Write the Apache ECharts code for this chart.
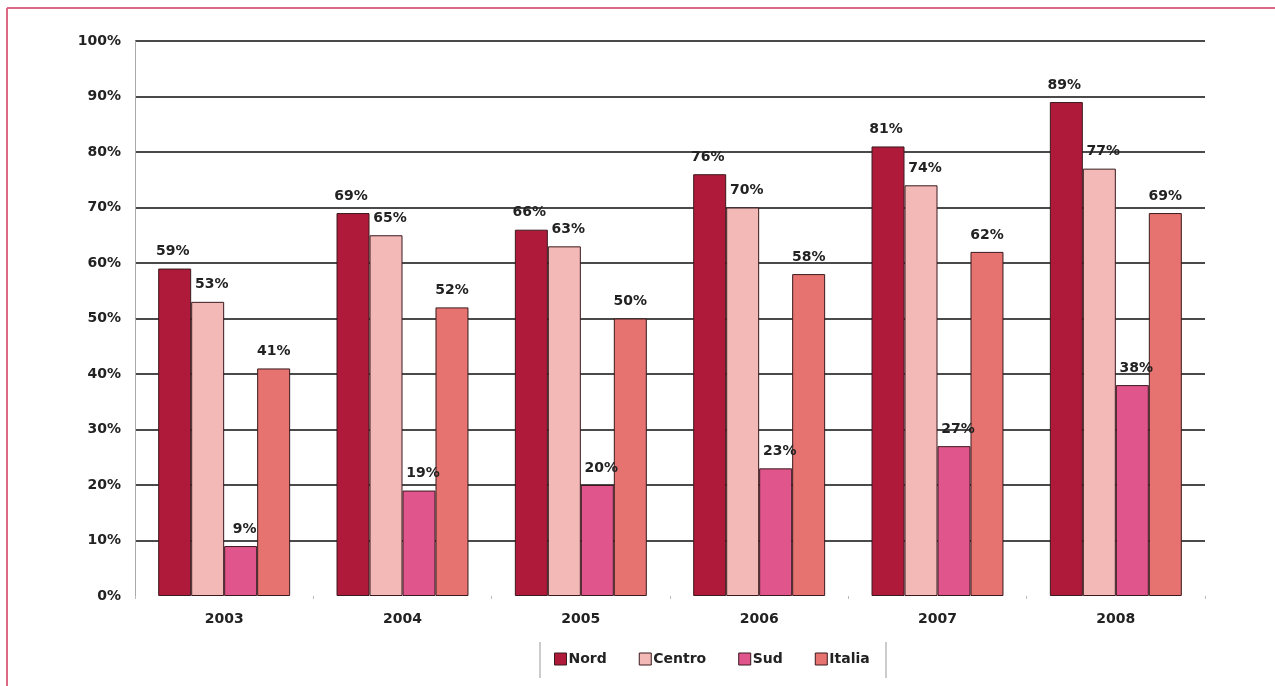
<!DOCTYPE html>
<html>
<head>
<meta charset="utf-8">
<script src="https://cdn.jsdelivr.net/npm/echarts@6/dist/echarts.min.js"></script>
<style>
  html, body { margin: 0; padding: 0; background: #fff; }
  #chart { width: 1275px; height: 686px; }
</style>
</head>
<body>
<div id="chart"></div>
<script>
// data
const years = ['2003', '2004', '2005', '2006', '2007', '2008']
const nord = [59, 69, 66, 76, 81, 89]
const centro = [53, 65, 63, 70, 74, 77]
const sud = [9, 19, 20, 23, 27, 38]
const italia = [41, 52, 50, 58, 62, 69]
const seriesNames = ['Nord', 'Centro', 'Sud', 'Italia']
const colors = ['#B01A3A', '#F2B9B6', '#E0558C', '#E6736F']

const FONT = 'DejaVu Sans, Liberation Sans, sans-serif'

const labelStyle = offsetX => ({
  show: true,
  position: 'top',
  distance: 10,
  offset: [offsetX, 0],
  formatter: '{c}%',
  fontFamily: FONT,
  fontWeight: 'bold',
  fontSize: 14,
  color: '#222'
})

const makeSeries = (name, data, idx, offsetX) => ({
  name: name,
  type: 'bar',
  data: data,
  barGap: 0,
  barCategoryGap: '26%',
  itemStyle: {
    color: colors[idx],
    borderColor: '#3a1a1e',
    borderWidth: 1
  },
  label: labelStyle(offsetX)
})

const option = {
  animation: false,
  color: colors,
  grid: {
    left: 135,
    right: 70,
    top: 41,
    bottom: 90
  },
  legend: {
    data: seriesNames,
    bottom: 15,
    left: 549,
    itemWidth: 12,
    itemHeight: 12,
    itemGap: 32,
    icon: 'rect',
    itemStyle: { borderColor: '#3a1a1e', borderWidth: 1 },
    textStyle: {
      fontFamily: FONT,
      fontWeight: 'bold',
      fontSize: 14,
      color: '#222',
      padding: [0, 0, 0, -3]
    }
  },
  xAxis: {
    type: 'category',
    data: years,
    axisLine: { show: false },
    axisTick: {
      show: true,
      length: 3,
      lineStyle: { color: '#bbb' }
    },
    axisLabel: {
      margin: 16,
      fontFamily: FONT,
      fontWeight: 'bold',
      fontSize: 14,
      color: '#222'
    }
  },
  yAxis: {
    type: 'value',
    min: 0,
    max: 100,
    interval: 10,
    axisLine: { show: true, lineStyle: { color: '#aaa', width: 1 } },
    axisTick: { show: false },
    axisLabel: {
      formatter: '{value}%',
      margin: 14,
      fontFamily: FONT,
      fontWeight: 'bold',
      fontSize: 14,
      color: '#222'
    },
    splitLine: {
      show: true,
      showMinLine: false,
      lineStyle: { color: '#4a4a4a', width: 2 }
    }
  },
  graphic: [
    // pink frame, top and left
    {
      type: 'line',
      shape: { x1: 7, y1: 8, x2: 1275, y2: 8 },
      style: { stroke: '#DC6884', lineWidth: 2 }
    },
    {
      type: 'line',
      shape: { x1: 7, y1: 8, x2: 7, y2: 686 },
      style: { stroke: '#DC6884', lineWidth: 2 }
    },
    // legend separators
    {
      type: 'line',
      shape: { x1: 540, y1: 642, x2: 540, y2: 678 },
      style: { stroke: '#999', lineWidth: 1 }
    },
    {
      type: 'line',
      shape: { x1: 886, y1: 642, x2: 886, y2: 678 },
      style: { stroke: '#999', lineWidth: 1 }
    }
  ],
  series: [
    makeSeries('Nord', nord, 0, -2),
    makeSeries('Centro', centro, 1, 4),
    makeSeries('Sud', sud, 2, 4),
    makeSeries('Italia', italia, 3, 0)
  ]
}

const chart = echarts.init(document.getElementById('chart'))
chart.setOption(option)
</script>
</body>
</html>
